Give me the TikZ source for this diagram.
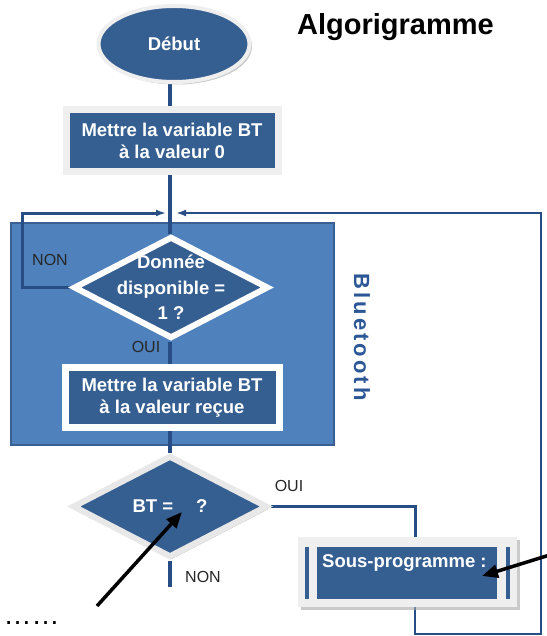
\documentclass[tikz,border=0pt]{standalone}
\usepackage{fontspec}
\setmainfont{Liberation Sans}
\newfontfamily\spacedfont[LetterSpace=14]{Liberation Sans}
\usetikzlibrary{shapes.geometric, arrows.meta, calc, shadows}
\definecolor{dblue}{HTML}{365F91}
\definecolor{contfill}{HTML}{4F81BD}
\definecolor{contdraw}{HTML}{3A6093}
\definecolor{rimc}{HTML}{EFEFEF}
\definecolor{linec}{HTML}{264E84}
\definecolor{labelc}{HTML}{262626}
\definecolor{btc}{HTML}{2B5797}
\pgfdeclarelayer{bg}
\pgfdeclarelayer{mid}
\pgfsetlayers{bg,mid,main}
\begin{document}
\begin{tikzpicture}[x=1pt,y=-1pt,
  lbl/.style={font=\fontsize{16}{18}\selectfont, text=labelc, inner sep=0},
  boxtxt/.style={font=\bfseries\fontsize{18.5}{22}\selectfont, text=white, align=center},
  diatxt/.style={font=\bfseries\fontsize{18.5}{25.5}\selectfont, text=white, align=center, inner sep=0},
  procbox/.style={rectangle, fill=dblue, draw=rimc, line width=7pt, minimum width=212pt, minimum height=62pt, inner sep=0},
  decision/.style={diamond, fill=dblue, draw=rimc, line width=6pt, minimum width=195pt, minimum height=102pt, inner sep=0},
  flow/.style={draw=linec, line width=3.5pt},
  loopline/.style={draw=linec, line width=3pt},
  thinloop/.style={draw=linec, line width=2.6pt},
  backarrow/.style={-{Latex[length=10pt,width=7pt]}},
  pointer/.style={draw=black, line width=3.5pt, -{Triangle[length=16pt,width=13pt]}},
  shd/.style={drop shadow={shadow xshift=2.5pt, shadow yshift=-2.5pt, fill=black!35, opacity=0.6}}
]
\useasboundingbox (0,0) rectangle (546,636);

% title
\node[font=\bfseries\fontsize{29}{34}\selectfont, anchor=base, inner sep=0] (title) at (395.5,35) {Algorigramme};

% spine coordinates
\coordinate (jn) at (170,213);
\coordinate (lt) at (22,213);
\coordinate (rt) at (541,213);
\coordinate (rb) at (541,634);
\coordinate (exitno) at (170,587);

% Bluetooth container
\begin{pgfonlayer}{bg}
\node[rectangle, fill=contfill, draw=contdraw, line width=2.5pt, minimum width=323pt, minimum height=222pt, inner sep=0] (bt) at (172.5,334) {};
\end{pgfonlayer}
\node[rotate=-90, font=\spacedfont\bfseries\fontsize{22}{24}\selectfont, text=btc, inner sep=0] (btl) at (362,337) {Bluetooth};

% nodes
\node[ellipse, fill=dblue, draw=rimc, line width=4pt, minimum width=151pt, minimum height=76pt, inner sep=0, shd, boxtxt] (start) at (174,44) {Début};
\node[procbox, shd, boxtxt] (box1) at (172,140.5) {Mettre la variable BT\\à la valeur 0};
\node[decision, draw=white] (d1) at (171,287.5) {};
\node[diatxt] (d1t) at (d1.center) {Donnée\\disponible =\\1 ?};
\node[procbox, draw=white, minimum width=214pt, minimum height=60pt, boxtxt] (box2) at (172,397.5) {Mettre la variable BT\\à la valeur reçue};
\node[decision, draw=black!9, shd] (d2) at (170,506.5) {};
\node[diatxt] (d2t) at (d2.center) {BT =\hspace{23pt}?};

% sous-programme (predefined process)
\node[rectangle, fill=rimc, minimum width=219pt, minimum height=70pt, inner sep=0, shd] (sp) at (407.5,572) {};
\fill[dblue] ($(sp.north west)+(19,10)$) rectangle ($(sp.south east)+(-20,-8)$);
\fill[dblue] ($(sp.north west)+(7,10)$) rectangle ($(sp.south west)+(11.5,-8)$);
\fill[dblue] ($(sp.north east)+(-11,10)$) rectangle ($(sp.south east)+(-7.5,-8)$);
\node[anchor=base west, font=\bfseries\fontsize{18.5}{22}\selectfont, text=white, inner sep=0] (spt) at (322,567.5) {Sous-programme :};

% labels
\node[lbl] (non1) at (50,260) {NON};
\node[lbl] (oui1) at (146,347) {OUI};
\node[lbl] (oui2) at (289,486) {OUI};
\node[lbl] (non2) at (203,577) {NON};

% connectors
\begin{pgfonlayer}{mid}
\draw[flow] (start.south -| jn) -- (box1.north -| jn);
\draw[flow] (box1.south -| jn) -- (d1.north -| jn);
\draw[flow] (d1.south -| jn) -- (box2.north -| jn);
\draw[flow] (box2.south -| jn) -- (d2.north -| jn);
\draw[flow] (d2.south -| jn) -- (exitno);
\draw[loopline, backarrow] (d1.west) -| (lt) -- ($(jn)+(-4,0)$);
\draw[loopline] (d2.east) -| ($(sp.north)+(7.5,0)$);
\draw[thinloop, backarrow] ($(sp.south)+(7.5,0)$) |- (rb) -- (rt) -- ($(jn)+(6,0)$);
\end{pgfonlayer}

% pointers
\node[anchor=base, font=\fontsize{28}{30}\selectfont, inner sep=0] (dots) at (31.5,624) {……};
\coordinate (p1s) at (97,606);
\coordinate (p1e) at (182,512);
\coordinate (p2s) at (548,555.5);
\coordinate (p2e) at (482,576);
\draw[pointer] (p1s) -- (p1e);
\draw[pointer] (p2s) -- (p2e);
\end{tikzpicture}
\end{document}
